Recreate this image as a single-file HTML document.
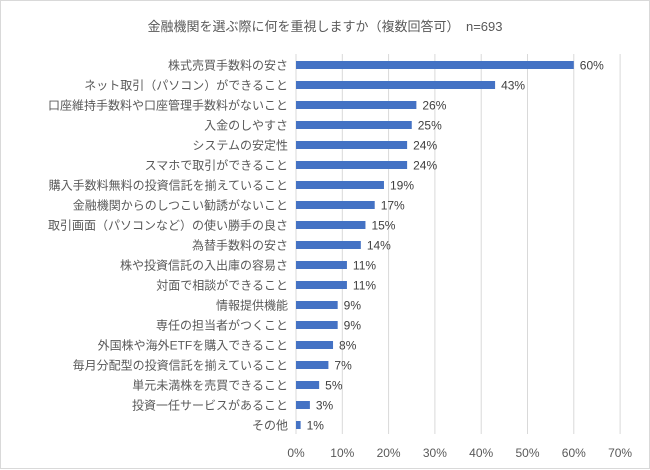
<!DOCTYPE html>
<html><head><meta charset="utf-8"><style>
body{margin:0;background:#fff;}
svg{display:block;font-family:"Liberation Sans","Noto Sans CJK JP",sans-serif;}
</style></head><body>
<svg width="650" height="470">
<rect x="0.5" y="0.5" width="649" height="468" fill="#fff" stroke="#d9d9d9"/>
<text x="325" y="31" text-anchor="middle" font-size="13" fill="#595959">金融機関を選ぶ際に何を重視しますか（複数回答可）　n=693</text>
<g id="grid"></g><g id="bars"></g><g id="labels"></g>
</svg>
<script>
const categories=["株式売買手数料の安さ","ネット取引（パソコン）ができること","口座維持手数料や口座管理手数料がないこと","入金のしやすさ","システムの安定性","スマホで取引ができること","購入手数料無料の投資信託を揃えていること","金融機関からのしつこい勧誘がないこと","取引画面（パソコンなど）の使い勝手の良さ","為替手数料の安さ","株や投資信託の入出庫の容易さ","対面で相談ができること","情報提供機能","専任の担当者がつくこと","外国株や海外ETFを購入できること","毎月分配型の投資信託を揃えていること","単元未満株を売買できること","投資一任サービスがあること","その他"];
const values=[60,43,26,25,24,24,19,17,15,14,11,11,9,9,8,7,5,3,1];
const ticks=[0,10,20,30,40,50,60,70];
const NS="http://www.w3.org/2000/svg";
const x0=296,pxPer=46.3,y0=65,step=20,barH=8;
const xs=v=>x0+v*pxPer/10;
const ys=i=>y0+i*step;
function mk(t,a,p){const e=document.createElementNS(NS,t);for(const k in a)e.setAttribute(k,a[k]);p.appendChild(e);return e;}
const grid=document.getElementById('grid'),bars=document.getElementById('bars'),labels=document.getElementById('labels');
ticks.forEach(t=>{
 const l=mk('line',{x1:xs(t),x2:xs(t),y1:54,y2:434,stroke:'#d9d9d9','stroke-width':1},grid);
 
 
 const tx=mk('text',{x:xs(t),y:457,'text-anchor':'middle','font-size':12,fill:'#595959'},grid);
 tx.textContent=t+'%';
 
 
});
categories.forEach((c,i)=>{
 const y=ys(i);
 const r=mk('rect',{x:x0,y:y-barH/2,width:xs(values[i])-x0,height:barH,fill:'#4472c4'},bars);
 
 
 const v=mk('text',{x:xs(values[i])+6,y:y+4.5,'font-size':12,fill:'#404040'},labels);
 v.textContent=values[i]+'%';
 
 
 const cl=mk('text',{x:288,y:y+4.5,'text-anchor':'end','font-size':12,fill:'#595959'},labels);
 cl.textContent=c;
 
 
});
</script>
</body></html>
